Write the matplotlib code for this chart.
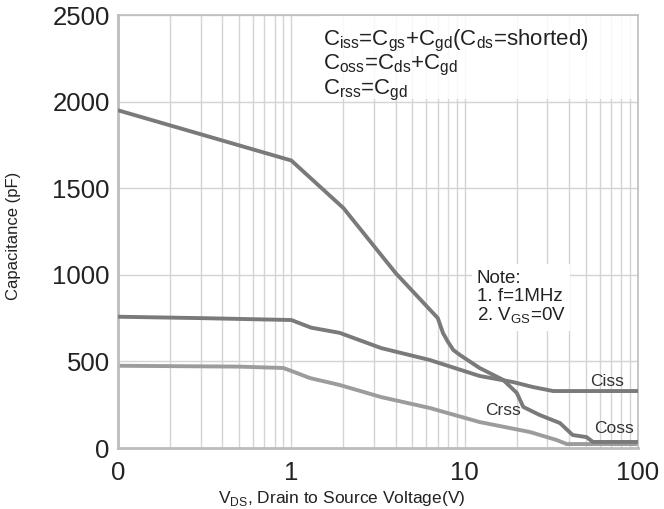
import matplotlib.pyplot as plt
from matplotlib.patches import Rectangle
from matplotlib.ticker import FixedLocator, LogLocator, NullFormatter

plt.rcParams['font.family'] = ['Liberation Sans', 'DejaVu Sans']
plt.rcParams['mathtext.fontset'] = 'custom'
plt.rcParams['mathtext.rm'] = 'Liberation Sans'

# capacitance vs VDS
vds_coss = [0.1, 1.0, 2.0, 4.0, 7.0, 7.5, 8.0, 8.6, 9.4, 12.2, 16.7, 20, 21.8, 27.2, 35.5, 42, 50.5, 55, 100]
coss = [1950, 1660, 1385, 1010, 750, 664, 614, 566, 537, 462, 393, 318, 237, 190, 144, 75, 63, 35, 35]

vds_ciss = [0.1, 0.3, 0.9, 1.0, 1.3, 1.9, 3.3, 6.3, 12.2, 19, 24.8, 32.4, 100]
ciss = [758, 750, 740, 739, 695, 665, 577, 508, 416, 381, 352, 329, 329]

vds_crss = [0.1, 0.5, 0.9, 1.0, 1.28, 1.9, 3.3, 6.3, 12.2, 23.9, 34, 38.8, 100]
crss = [475, 470, 462, 445, 404, 364, 294, 231, 150, 92, 46, 23, 23]

xticks = [0.1, 1, 10, 100]
xticklabels = ['0', '1', '10', '100']
yticks = [0, 500, 1000, 1500, 2000, 2500]

fig = plt.figure(figsize=(6.64, 5.09), dpi=100)
ax = fig.add_axes([0.1777, 0.1198, 0.7831, 0.8507])

ax.set_xscale('log')
ax.set_xlim(0.1, 100)
ax.set_ylim(0, 2500)

ax.xaxis.set_major_locator(FixedLocator(xticks))
ax.set_xticklabels(xticklabels)
ax.xaxis.set_minor_locator(LogLocator(base=10, subs=range(2, 10)))
ax.xaxis.set_minor_formatter(NullFormatter())
ax.set_yticks(yticks)

ax.grid(True, which='both', axis='x', color='#d4d4d4', lw=1.0)
ax.grid(True, which='major', axis='y', color='#d4d4d4', lw=1.0)
ax.set_axisbelow(True)

ax.tick_params(axis='both', which='both', length=0, labelsize=18.5, colors='#222222', pad=6)
ax.tick_params(axis='x', pad=9)

for side, sp in ax.spines.items():
    sp.set_color('#bdbdbd')
    sp.set_linewidth(1.2 if side in ('top', 'right') else 2.0)

# white panels behind the formula block and the note
ax.add_patch(Rectangle((0.388, 0.805), 0.612, 0.193, transform=ax.transAxes,
                       facecolor='white', alpha=0.85, edgecolor='none', zorder=1))
ax.add_patch(Rectangle((0.68, 0.27), 0.19, 0.155, transform=ax.transAxes,
                       facecolor='white', edgecolor='none', zorder=1))

ax.plot(vds_coss, coss, color='#7a7a7a', lw=2.8, zorder=3, solid_capstyle='butt')
ax.plot(vds_ciss, ciss, color='#7a7a7a', lw=2.8, zorder=3, solid_capstyle='butt')
ax.plot(vds_crss, crss, color='#9c9c9c', lw=2.8, zorder=2, solid_capstyle='butt')

ax.text(53, 383, 'Ciss', fontsize=12.5, color='#333333', va='center', zorder=4)
ax.text(55.5, 114, 'Coss', fontsize=12.5, color='#333333', va='center', zorder=4)
ax.text(13.2, 218, 'Crss', fontsize=12.5, color='#333333', va='center', zorder=4)

formulas = [
    r'C$_\mathregular{iss}$=C$_\mathregular{gs}$+C$_\mathregular{gd}$(C$_\mathregular{ds}$=shorted)',
    r'C$_\mathregular{oss}$=C$_\mathregular{ds}$+C$_\mathregular{gd}$',
    r'C$_\mathregular{rss}$=C$_\mathregular{gd}$',
]
for i, s in enumerate(formulas):
    ax.text(0.395, 0.94 - i * 0.057, s, transform=ax.transAxes, fontsize=16,
            color='#222222', va='center', zorder=4)

note = ['Note:', '1. f=1MHz', r'2. V$_\mathregular{GS}$=0V']
for i, s in enumerate(note):
    ax.text(0.69, 0.392 - i * 0.043, s, transform=ax.transAxes, fontsize=13.5,
            color='#222222', va='center', zorder=4)

ax.set_ylabel('Capacitance (pF)', fontsize=12, color='#222222')
ax.yaxis.set_label_coords(-0.187, 0.49)
ax.set_xlabel(r'V$_\mathregular{DS}$, Drain to Source Voltage(V)', fontsize=12.5,
              color='#222222')
ax.xaxis.set_label_coords(0.43, -0.095)

fig.savefig('out.png', dpi=100)
